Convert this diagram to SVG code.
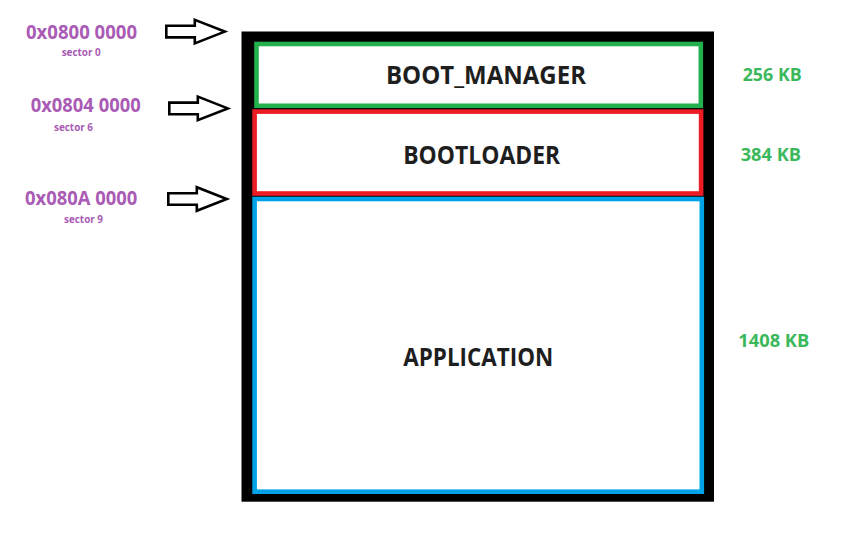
<svg xmlns="http://www.w3.org/2000/svg" width="863" height="535" viewBox="0 0 863 535">
  <style>
    .addr { font-family: "Open Sans", "Liberation Sans", sans-serif; font-weight: 700; fill: #a95bb5; }
    .big { font-size: 19.5px; }
    .small { font-size: 10px; }
    .size { font-family: "Open Sans", "Liberation Sans", sans-serif; font-weight: 700; font-size: 17px; fill: #3cb85c; }
    .label { font-family: "Open Sans", "Liberation Sans", sans-serif; font-weight: 700; font-size: 24.5px; fill: #1e1e1e; text-anchor: middle; }
    .arrow { fill: #ffffff; stroke: #000000; stroke-width: 2.6; stroke-linejoin: miter; }
  </style>
  <defs>
    <path id="blockArrow" d="M-58.5,-5.8 H-30 V-11.8 L0,0 L-30,11.8 V5.8 H-58.5 Z"/>
  </defs>
  <rect width="863" height="535" fill="#ffffff"/>

  <g id="memory-frame">
    <rect x="241.5" y="31.5" width="472.5" height="470.2" fill="#000000"/>
  </g>

  <g id="boot-manager">
    <rect x="256.5" y="44" width="444.3" height="61.8" fill="#ffffff" stroke="#22b14c" stroke-width="4.6"/>
    <text class="label" x="486" y="84.3" textLength="200" lengthAdjust="spacingAndGlyphs">BOOT_MANAGER</text>
  </g>

  <g id="bootloader">
    <rect x="254.6" y="111.6" width="446.5" height="81.9" fill="#ffffff" stroke="#ed1c24" stroke-width="4.6"/>
    <text class="label" x="481.7" y="164.2" textLength="157" lengthAdjust="spacingAndGlyphs">BOOTLOADER</text>
  </g>

  <g id="application">
    <rect x="254.6" y="199" width="447.2" height="292.7" fill="#ffffff" stroke="#00a2e8" stroke-width="4.6"/>
    <text class="label" x="478.3" y="366.3" textLength="150" lengthAdjust="spacingAndGlyphs">APPLICATION</text>
  </g>

  <g id="addresses">
    <text class="addr big" x="26" y="39" textLength="111" lengthAdjust="spacingAndGlyphs">0x0800 0000</text>
    <text class="addr small" x="61.7" y="55.6" textLength="39" lengthAdjust="spacingAndGlyphs">sector 0</text>
    <text class="addr big" x="30.7" y="112.3" textLength="110" lengthAdjust="spacingAndGlyphs">0x0804 0000</text>
    <text class="addr small" x="54" y="131" textLength="39" lengthAdjust="spacingAndGlyphs">sector 6</text>
    <text class="addr big" x="25" y="205" textLength="112.3" lengthAdjust="spacingAndGlyphs">0x080A 0000</text>
    <text class="addr small" x="64" y="222.7" textLength="39" lengthAdjust="spacingAndGlyphs">sector 9</text>
  </g>

  <g id="sizes">
    <text class="size" x="742.7" y="80.7" textLength="59" lengthAdjust="spacingAndGlyphs">256 KB</text>
    <text class="size" x="740.7" y="161" textLength="60.3" lengthAdjust="spacingAndGlyphs">384 KB</text>
    <text class="size" x="738.3" y="346.7" textLength="71" lengthAdjust="spacingAndGlyphs">1408 KB</text>
  </g>

  <g id="connectors">
    <use href="#blockArrow" class="arrow" transform="translate(224.8,31.6)"/>
    <use href="#blockArrow" class="arrow" transform="translate(227.8,108.4)"/>
    <use href="#blockArrow" class="arrow" transform="translate(226.8,199)"/>
  </g>
</svg>
